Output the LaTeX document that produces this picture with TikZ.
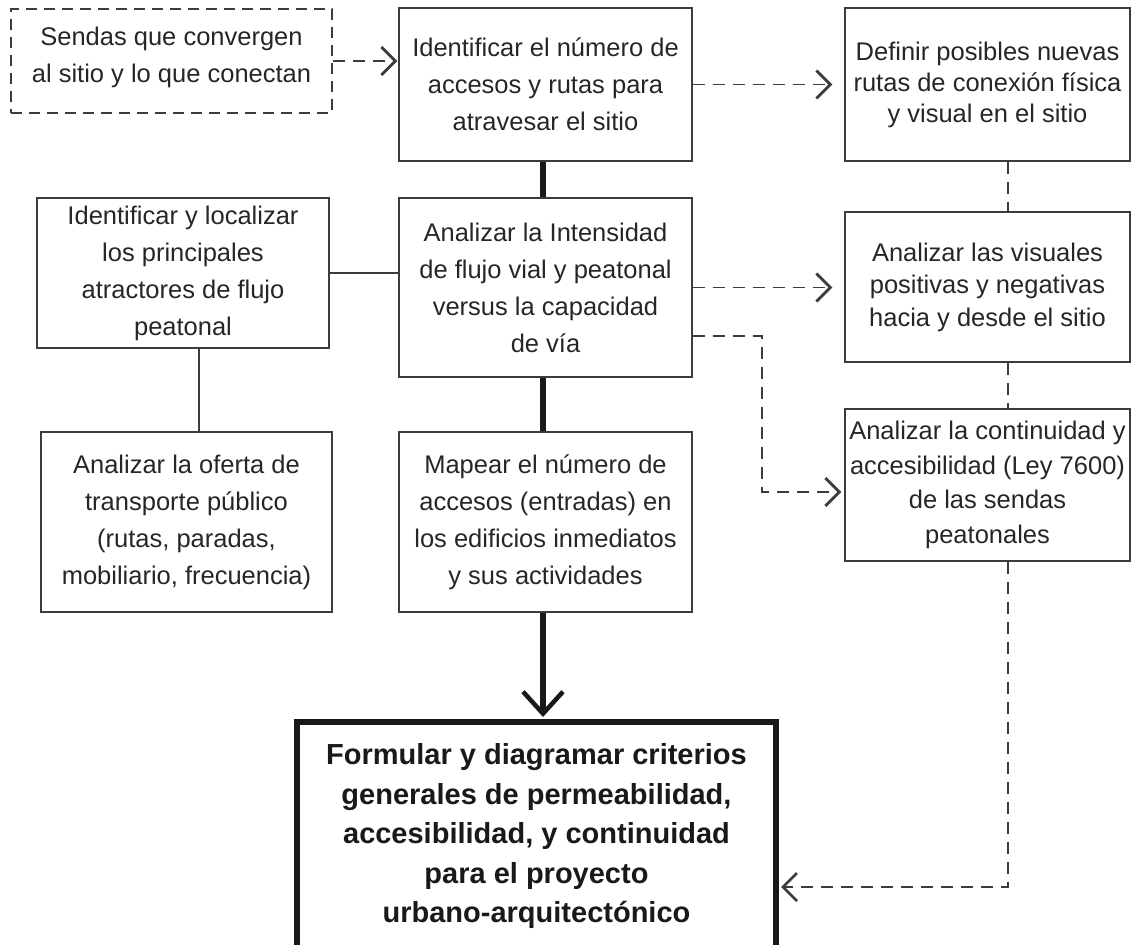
\documentclass[tikz,border=0pt]{standalone}
\usepackage{fontspec}
\setmainfont{Liberation Sans}
\usetikzlibrary{arrows.meta,calc}
\definecolor{boxgray}{RGB}{60,60,60}
\definecolor{txt}{RGB}{38,38,38}
\definecolor{heavy}{RGB}{25,25,25}
\begin{document}
\begin{tikzpicture}[x=1pt,y=-1pt,
  box/.style={draw=boxgray, line width=1.5pt, inner sep=0pt, align=center, text=txt,
    font=\fontsize{25.5}{37}\selectfont},
  dbox/.style={box, dash pattern=on 11pt off 7pt},
  bigbox/.style={draw=heavy, line width=6pt, inner sep=0pt, align=center, text=heavy,
    font=\bfseries\fontsize{29}{39.5}\selectfont},
  thinlink/.style={draw=boxgray, line width=1.5pt},
  dlink/.style={draw=boxgray, line width=1.8pt, dash pattern=on 12pt off 8pt},
  dtip/.style={-{Straight Barb[length=14pt,width=28pt,line width=2.8pt]}},
  thick link/.style={draw=heavy, line width=6pt},
  bigtip/.style={-{Straight Barb[length=22pt,width=40pt,line width=4.5pt]}}
]
\useasboundingbox (0,0) rectangle (1131,944);

% boxes
\node[dbox, minimum width=321pt, minimum height=104pt] (b1) at (171.5,61)
  {Sendas que convergen\\al sitio y lo que conectan\\[-24pt]};
\node[box, minimum width=293pt, minimum height=153pt] (b2) at (545.5,84.5)
  {Identificar el número de\\accesos y rutas para\\atravesar el sitio};
\node[box, minimum width=285pt, minimum height=153pt, font=\fontsize{25.5}{31}\selectfont] (b3) at (987.5,84.5)
  {Definir posibles nuevas\\rutas de conexión física\\y visual en el sitio};
\node[box, minimum width=292pt, minimum height=150pt] (b4) at (183,273)
  {Identificar y localizar\\los principales\\atractores de flujo\\peatonal};
\node[box, minimum width=293pt, minimum height=179pt] (b5) at (545.5,287.5)
  {Analizar la Intensidad\\de flujo vial y peatonal\\versus la capacidad\\de vía};
\node[box, minimum width=285pt, minimum height=150pt, font=\fontsize{25.5}{32.5}\selectfont] (b6) at (987.5,287)
  {Analizar las visuales\\positivas y negativas\\hacia y desde el sitio};
\node[box, minimum width=285pt, minimum height=152pt, font=\fontsize{25.5}{34.5}\selectfont] (b7) at (987.5,485)
  {Analizar la continuidad y\\accesibilidad (Ley 7600)\\de las sendas\\peatonales};
\node[box, minimum width=291pt, minimum height=180pt] (b8) at (186.5,522)
  {Analizar la oferta de\\transporte público\\(rutas, paradas,\\mobiliario, frecuencia)};
\node[box, minimum width=293pt, minimum height=180pt] (b9) at (545.5,522)
  {Mapear el número de\\accesos (entradas) en\\los edificios inmediatos\\y sus actividades};
\node[bigbox, minimum width=479pt, minimum height=228pt] (b10) at (536.5,836)
  {Formular y diagramar criterios\\generales de permeabilidad,\\accesibilidad, y continuidad\\para el proyecto\\urbano-arquitectónico};

% helper coordinates
\coordinate (lx) at (199,0);
\coordinate (sx) at (543,0);
\coordinate (vx) at (1008,0);
\coordinate (k1) at (762,336);
\coordinate (k2) at (762,492);
\coordinate (k3) at (1008,887);

% thick main spine
\draw[thick link] (b2.south -| sx) -- (b5.north -| sx);
\draw[thick link] (b5.south -| sx) -- (b9.north -| sx);
\draw[thick link, bigtip, shorten >=2pt] (b9.south -| sx) -- (b10.north -| sx);

% thin solid links
\draw[thinlink] (b4.east) -- (b4.east -| b5.west);
\draw[thinlink] (b4.south -| lx) -- (b8.north -| lx);

% dashed links
\draw[dlink, dtip, shorten >=1pt] (b1.east) -- (b1.east -| b2.west);
\draw[dlink, dtip, shorten >=12pt] (b2.east) -- (b2.east -| b3.west);
\draw[dlink, dtip, shorten >=12pt] (b5.east) -- (b5.east -| b6.west);
\draw[dlink, dtip, shorten >=3pt] (k1 -| b5.east) -- (k1) -- (k2) -- (k2 -| b7.west);
\draw[dlink] (b3.south -| vx) -- (b6.north -| vx);
\draw[dlink] (b6.south -| vx) -- (b7.north -| vx);
\draw[dlink, dtip, shorten >=2pt] (b7.south -| vx) -- (k3) -- (k3 -| b10.east);
\end{tikzpicture}
\end{document}
